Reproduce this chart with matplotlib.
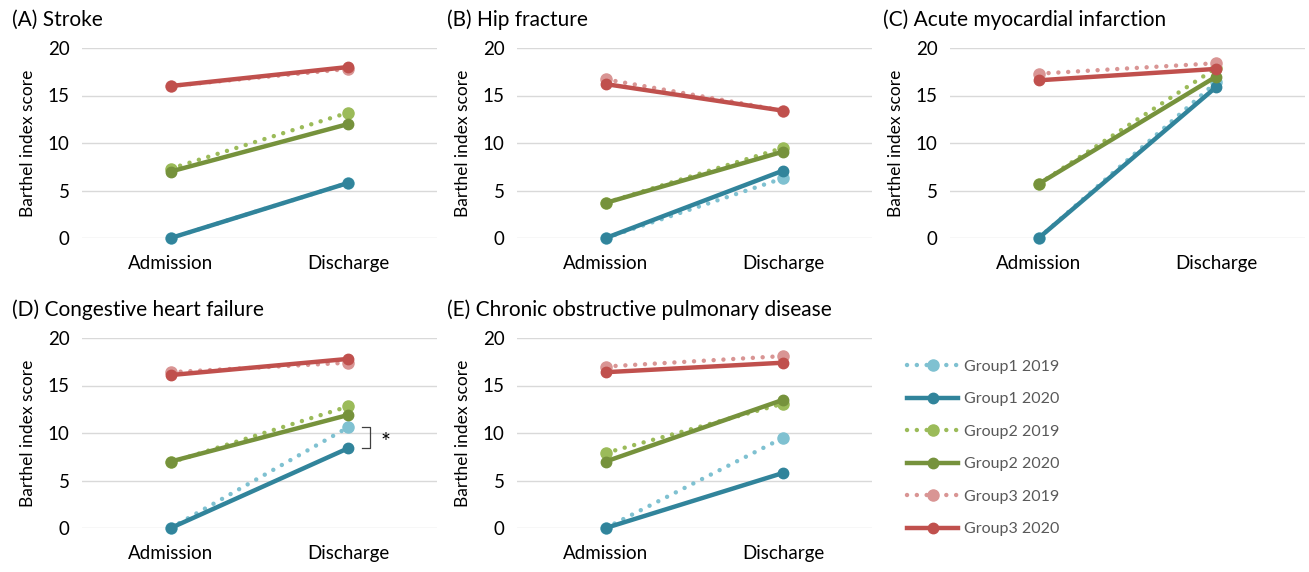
import numpy as np
import matplotlib.pyplot as plt
from matplotlib.lines import Line2D

plt.rcParams['font.family'] = ['Lato', 'DejaVu Sans']

# -------------------------
# Data
# -------------------------
timepoints = ['Admission', 'Discharge']
panel_titles = ['(A) Stroke', '(B) Hip fracture', '(C) Acute myocardial infarction',
                '(D) Congestive heart failure', '(E) Chronic obstructive pulmonary disease']
series_names = ['Group1 2019', 'Group1 2020', 'Group2 2019',
                'Group2 2020', 'Group3 2019', 'Group3 2020']

stroke = [[0, 5.8], [0, 5.8], [7.3, 13.2], [7.0, 12.0], [16.0, 17.8], [16.0, 18.0]]
hip = [[0, 6.3], [0, 7.1], [3.7, 9.5], [3.7, 9.1], [16.7, 13.4], [16.2, 13.4]]
ami = [[0, 16.4], [0, 15.9], [5.7, 17.9], [5.7, 17.0], [17.3, 18.4], [16.6, 17.8]]
chf = [[0, 10.6], [0, 8.4], [6.9, 12.8], [7.0, 11.9], [16.4, 17.4], [16.1, 17.8]]
copd = [[0, 9.5], [0, 5.8], [7.9, 13.1], [7.0, 13.5], [17.0, 18.1], [16.4, 17.4]]
panels = [stroke, hip, ami, chf, copd]

colors = ['#7fc1d1', '#31849b', '#9bbb59', '#76923c', '#d99594', '#c0504d']
dotted = [True, False, True, False, True, False]

# -------------------------
# Layout
# -------------------------
W, H = 1309, 572
fig = plt.figure(figsize=(W / 100, H / 100), dpi=100)

# left edge, top (px) of each plot area
boxes = [(82, 48), (517, 48), (950, 48), (82, 338), (517, 338)]
title_pos = [(12, 20), (447, 20), (883, 20), (12, 310), (447, 310)]
aw, ah = 355, 190

x = np.arange(len(timepoints))
axes = []
for i, data in enumerate(panels):
    lx, ty = boxes[i]
    ax = fig.add_axes([lx / W, 1 - (ty + ah) / H, aw / W, ah / H])
    for j, vals in enumerate(data):
        if dotted[j]:
            ax.plot(x, vals, color=colors[j], lw=3.2, ls=(0, (0.01, 2.2)),
                    dash_capstyle='round', marker='o', ms=8, clip_on=False, zorder=2)
        else:
            ax.plot(x, vals, color=colors[j], lw=3.2, solid_capstyle='round',
                    marker='o', ms=7.5, clip_on=False, zorder=3)
    ax.set_xlim(-0.5, 1.5)
    ax.set_ylim(0, 20)
    ax.set_yticks([0, 5, 10, 15, 20])
    ax.set_xticks(x)
    ax.set_xticklabels(timepoints, fontsize=13.5)
    ax.tick_params(axis='both', length=0, labelsize=13.5)
    ax.tick_params(axis='x', pad=12)
    ax.tick_params(axis='y', pad=9)
    ax.grid(axis='y', color='#d9d9d9', lw=1)
    ax.set_axisbelow(True)
    for s in ax.spines.values():
        s.set_visible(False)
    ax.set_ylabel('Barthel index score', fontsize=12.5, labelpad=8)
    fig.text(title_pos[i][0] / W, 1 - title_pos[i][1] / H, panel_titles[i],
             fontsize=15, ha='left', va='center')
    axes.append(ax)

# significance bracket in panel D
axd = axes[3]
hi, lo = chf[0][1], chf[1][1]
axd.plot([1.08, 1.12, 1.12, 1.08], [hi, hi, lo, lo], color='#404040', lw=0.9, clip_on=False)
axd.text(1.21, (hi + lo) / 2 - 0.5, '*', fontsize=17, ha='center', va='center')

# legend
handles = []
for j, name in enumerate(series_names):
    if dotted[j]:
        h = Line2D([], [], color=colors[j], lw=3.2, ls=(0, (0.01, 2.2)),
                   dash_capstyle='round', marker='o', ms=8, markevery=[1])
    else:
        h = Line2D([], [], color=colors[j], lw=3.2, marker='o', ms=7.5, markevery=[1])
    handles.append(h)
leg = fig.legend(handles=handles, labels=series_names, loc='upper left',
                 bbox_to_anchor=(893 / W, 1 - 345 / H), frameon=False,
                 fontsize=11.5, handlelength=3.2, labelspacing=1.15, handletextpad=0.35)
for t in leg.get_texts():
    t.set_color('#595959')
for lh in leg.get_lines():
    lh.set_xdata([lh.get_xdata()[0], np.mean(lh.get_xdata()), lh.get_xdata()[-1]])
    lh.set_ydata([lh.get_ydata()[0]] * 3)

fig.savefig('out.png', dpi=100)
